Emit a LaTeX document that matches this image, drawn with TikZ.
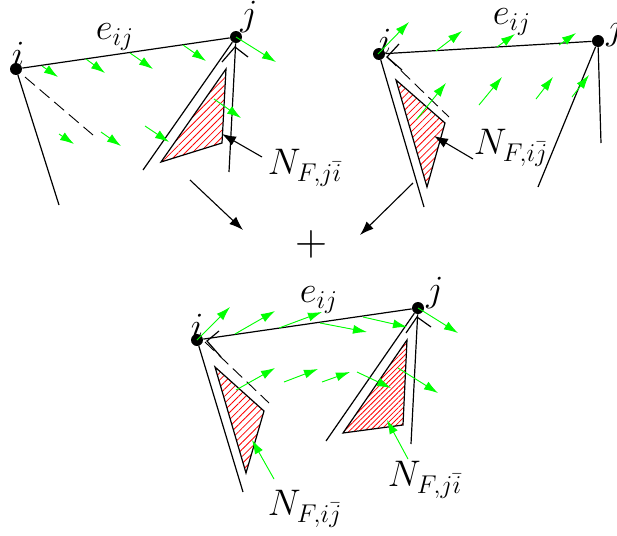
\documentclass[tikz,border=0pt]{standalone}
\usepackage{xcolor}
\definecolor{fieldGreen}{HTML}{00FF00}
\definecolor{hatchRed}{HTML}{FF0000}
\usetikzlibrary{
    arrows.meta,
    patterns.meta
}
\tikzset{
    % Mesh vertices
    vertex/.style={
        circle,
        fill=black,
        inner sep=0pt,
        minimum size=6pt,
    },
    % Labels of vertices, edges and faces
    mesh label/.style={
        font=\LARGE,
        inner sep=0pt,
        scale=1.07,
        transform shape,
    },
    % Mesh edges
    edge line/.style={
        line width=0.6pt,
    },
    % Dashed edge variant
    edge dashed/.style={
        line width=0.45pt,
        dash pattern=on 6.5pt off 3.1pt,
    },
    % Wedge triangles with red hatching
    wedge/.style={
        line width=0.6pt,
        pattern={Lines[angle=45, distance=#1, line width=0.4pt]},
        pattern color=hatchRed,
    },
    % Arrow to a wedge label or to the sum
    pointer/.style={
        -{Latex[length=7pt, width=5pt]},
        line width=0.55pt,
    },
    % Green vector field
    field/.style={
        -{Latex[length=7pt, width=4.5pt]},
        line width=0.45pt,
        draw=fieldGreen,
        fill=fieldGreen,
    },
}
\begin{document}
\begin{tikzpicture}[x=0.5pt, y=-0.5pt]
    \useasboundingbox (0,0) rectangle (617,536);

    % Top left
    \node (iA) [vertex] at (16,69) {};
    \node (jA) [vertex] at (236,37) {};
    \coordinate (iAdown) at (59,205);
    \coordinate (jAdown) at (229,172);
    \coordinate (jAside) at (143,170);
    \coordinate (dashAa) at (25,77);
    \coordinate (dashAb) at (93,135);
    \coordinate (tailA) at (262,157);
    \coordinate (tipA) at (222,134);
    \draw [edge line] (iA) -- (jA);
    \draw [edge line] (iA) -- (iAdown);
    \draw [edge line] (jA) -- (jAdown);
    \draw [edge line] (jA) -- (jAside);
    \draw [edge dashed] (dashAa) -- (dashAb);
    \draw [edge line] (222,62) -- (235,47) -- (248,57);
    \draw [wedge=2.5pt] (226,69) -- (222,143) -- (161,162) -- cycle;
    \draw [pointer] (tailA) -- (tipA);
    \node (eA) [mesh label] at (115,37) {$e_{ij}$};
    \node (iAl) [mesh label] at (18,54) {$i$};
    \node (jAl) [mesh label] at (249,17) {$j$};
    \node (nA) [mesh label] at (305,168) {$N_{F,j\bar{i}}$};

    % Top right
    \node (iB) [vertex] at (379,54) {};
    \node (jB) [vertex] at (598,41) {};
    \coordinate (iBdown) at (424,207);
    \coordinate (jBdown) at (601,143);
    \coordinate (jBside) at (538,187);
    \coordinate (dashBa) at (387,57);
    \coordinate (dashBb) at (449,117);
    \coordinate (tailB) at (473,159);
    \coordinate (tipB) at (434,136);
    \draw [edge line] (iB) -- (jB);
    \draw [edge line] (iB) -- (iBdown);
    \draw [edge line] (jB) -- (jBdown);
    \draw [edge line] (jB) -- (jBside);
    \draw [edge dashed] (dashBa) -- (dashBb);
    \draw [edge line] (399,44) -- (387,57) -- (402,70);
    \draw [wedge=2.5pt] (396,80) -- (445,123) -- (427,187) -- cycle;
    \draw [pointer] (tailB) -- (tipB);
    \node (eB) [mesh label] at (512,22) {$e_{ij}$};
    \node (iBl) [mesh label] at (385,41) {$i$};
    \node (jBl) [mesh label] at (615,31) {$j$};
    \node (nB) [mesh label] at (511,148) {$N_{F,i\bar{j}}$};

    % Sum
    \node (plus) [font=\huge, inner sep=0pt, scale=1.07, transform shape] at (311,244) {$+$};
    \coordinate (fromA) at (190,180);
    \coordinate (toA) at (243,230);
    \coordinate (fromB) at (413,183);
    \coordinate (toB) at (360,235);
    \draw [pointer] (fromA) -- (toA);
    \draw [pointer] (fromB) -- (toB);

    % Bottom
    \node (iC) [vertex] at (197,340) {};
    \node (jC) [vertex] at (418,308) {};
    \coordinate (iCdown) at (243,492);
    \coordinate (jCdown) at (411,444);
    \coordinate (jCside) at (326,441);
    \coordinate (dashCa) at (205,342);
    \coordinate (dashCb) at (269,403);
    \draw [edge line] (iC) -- (jC);
    \draw [edge line] (iC) -- (iCdown);
    \draw [edge line] (jC) -- (jCdown);
    \draw [edge line] (jC) -- (jCside);
    \draw [edge dashed] (dashCa) -- (dashCb);
    \draw [edge line] (219,331) -- (207,341) -- (221,357);
    \draw [edge line] (406,333) -- (417,317) -- (431,327);
    \draw [wedge=2.5pt] (215,367) -- (264,411) -- (246,473) -- cycle;
    \draw [wedge=1.8pt] (407,340) -- (403,425) -- (343,433) -- cycle;
    \node (eC) [mesh label] at (319,300) {$e_{ij}$};
    \node (iCl) [mesh label] at (197,326) {$i$};
    \node (jCl) [mesh label] at (435,293) {$j$};
    \node (nC) [mesh label] at (305,509) {$N_{F,i\bar{j}}$};
    \node (nD) [mesh label] at (425,480) {$N_{F,j\bar{i}}$};

    % Green vectors
    \foreach \xa/\ya/\xb/\yb [count=\n] in {
        42/66/58/77, 86/59/105/73, 130/53/153/69, 183/45/206/61, 236/37/276/62,
        59/134/74/144, 101/132/121/146, 145/126/169/142, 214/99/241/118,
        378/54/409/22, 436/51/462/31, 497/47/515/34, 559/45/576/33,
        417/119/446/83, 479/105/502/77, 536/99/553/77, 572/97/589/75,
        197/340/230/307, 235/334/275/311, 279/328/322/312, 320/323/367/332,
        363/317/407/327, 418/308/458/333, 236/390/275/368, 284/382/318/369,
        322/382/350/372, 357/372/391/388, 398/368/438/393,
        274/479/252/440, 408/459/387/420} {
        \coordinate (tail\n) at (\xa,\ya);
        \coordinate (tip\n) at (\xb,\yb);
        \draw [field] (tail\n) -- (tip\n);
    }
\end{tikzpicture}
\end{document}
